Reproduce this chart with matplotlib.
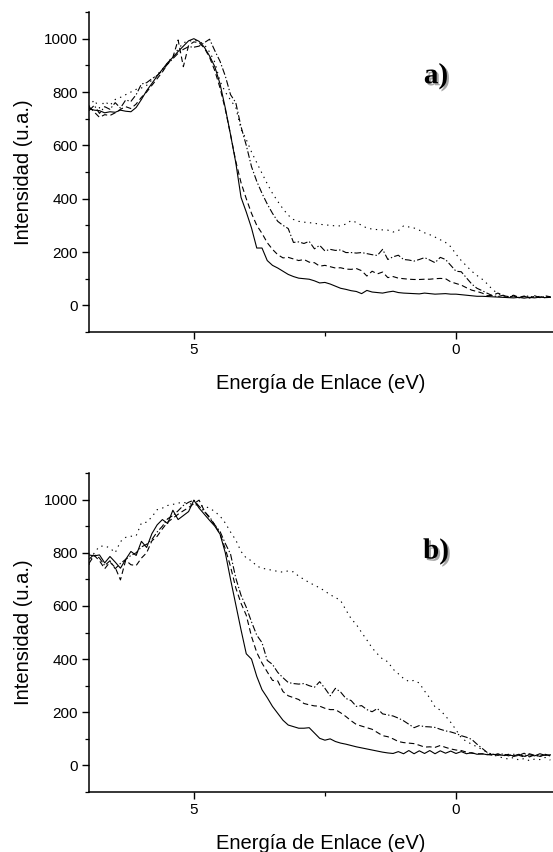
import numpy as np
import matplotlib

matplotlib.use("Agg")
import matplotlib.pyplot as plt
import matplotlib.patheffects as pe
from matplotlib.ticker import MultipleLocator

plt.rcParams["font.family"] = ["Liberation Sans", "DejaVu Sans"]

# binding energy grid (eV), 0.1 eV steps from 7.0 down to -1.8
energy = np.round(np.arange(7.0, -1.85, -0.1), 1)

# panel a)
a_solid = [738, 732, 730, 722, 726, 724, 732, 728, 726, 742,
           772, 805, 832, 860, 885, 910, 930, 952, 972, 992,
           1000, 990, 968, 935, 895, 830, 740, 640, 535, 405,
           350, 290, 215, 215, 168, 150, 140, 128, 116, 108,
           102, 100, 98, 92, 84, 86, 80, 72, 64, 60,
           55, 52, 44, 56, 50, 48, 46, 50, 53, 48,
           46, 45, 44, 43, 46, 44, 42, 43, 44, 42,
           42, 40, 38, 36, 34, 34, 33, 32, 31, 30,
           29, 28, 30, 27, 30, 28, 31, 29, 30]
a_dashed = [745, 725, 705, 715, 712, 722, 735, 745, 738, 755,
            780, 800, 825, 850, 875, 905, 930, 995, 895, 975,
            988, 985, 965, 930, 880, 815, 735, 640, 540, 460,
            400, 345, 300, 270, 235, 210, 190, 178, 180, 174,
            168, 172, 162, 160, 147, 150, 145, 140, 141, 136,
            135, 138, 130, 110, 128, 118, 125, 104, 108, 102,
            100, 98, 97, 97, 98, 98, 100, 101, 100, 88,
            82, 76, 66, 57, 52, 46, 36, 38, 46, 36,
            33, 38, 30, 35, 27, 34, 30, 36, 32]
a_dashdot = [730, 750, 720, 745, 735, 760, 740, 770, 765, 790,
             830, 835, 850, 862, 880, 905, 925, 945, 960, 970,
             968, 972, 985, 998, 955, 915, 860, 790, 760, 670,
             600, 520, 465, 420, 380, 345, 315, 300, 288, 236,
             238, 232, 240, 212, 225, 204, 210, 206, 208, 198,
             198, 196, 198, 194, 190, 187, 210, 172, 182, 188,
             172, 170, 166, 172, 179, 170, 160, 180, 172, 150,
             128, 126, 103, 80, 64, 55, 45, 36, 33, 38,
             31, 35, 28, 33, 30, 36, 29, 33, 31]
a_dotted = [745, 770, 740, 765, 750, 772, 780, 790, 800, 810,
            815, 825, 845, 865, 885, 910, 935, 960, 985, 990,
            995, 990, 978, 950, 912, 840, 800, 770, 742, 660,
            622, 575, 535, 495, 456, 420, 390, 362, 338, 322,
            315, 312, 310, 308, 304, 302, 300, 298, 298, 305,
            318, 311, 300, 290, 286, 284, 283, 282, 275, 280,
            298, 294, 290, 282, 272, 265, 256, 246, 236, 220,
            192, 168, 148, 128, 112, 98, 80, 58, 45, 36,
            30, 34, 29, 32, 36, 30, 34, 28, 33]

# panel b)
b_solid = [792, 788, 792, 762, 786, 765, 742, 775, 805, 790,
           843, 820, 872, 905, 925, 910, 960, 925, 940, 955,
           998, 968, 945, 922, 900, 870, 800, 700, 605, 510,
           420, 400, 335, 285, 255, 222, 196, 170, 152, 146,
           140, 140, 142, 122, 102, 95, 100, 90, 84, 80,
           75, 70, 66, 62, 58, 54, 50, 47, 45, 52,
           44, 56, 44, 55, 45, 56, 44, 55, 46, 54,
           45, 52, 44, 48, 42, 44, 40, 42, 40, 38,
           40, 36, 42, 34, 40, 36, 44, 38, 40]
b_dashed = [760, 790, 770, 740, 765, 745, 698, 772, 755, 752,
            780, 800, 845, 862, 890, 915, 930, 945, 958, 970,
            985, 998, 958, 930, 905, 870, 815, 748, 668, 610,
            565, 485, 425, 385, 352, 320, 318, 278, 262, 255,
            248, 233, 228, 224, 223, 215, 210, 210, 198, 184,
            168, 154, 148, 142, 136, 124, 112, 108, 100, 90,
            86, 84, 82, 76, 69, 70, 68, 75, 68, 62,
            58, 56, 50, 46, 44, 43, 42, 38, 44, 36,
            42, 34, 38, 46, 32, 40, 34, 42, 36]
b_dashdot = [775, 795, 780, 752, 770, 740, 760, 775, 790, 800,
             822, 832, 850, 878, 900, 928, 940, 958, 978, 990,
             998, 975, 955, 935, 905, 880, 835, 795, 705, 640,
             595, 540, 490, 462, 395, 380, 350, 330, 312, 308,
             306, 308, 300, 294, 315, 290, 262, 290, 276, 252,
             244, 222, 225, 210, 202, 214, 194, 190, 186, 178,
             168, 155, 142, 150, 146, 145, 143, 136, 130, 126,
             120, 112, 106, 98, 80, 64, 48, 42, 38, 44,
             36, 42, 38, 32, 44, 38, 34, 40, 36]
b_dotted = [755, 800, 824, 826, 818, 800, 842, 858, 862, 864,
            912, 915, 935, 962, 968, 978, 982, 987, 990, 985,
            982, 978, 975, 968, 955, 938, 912, 878, 848, 805,
            780, 770, 750, 742, 738, 734, 730, 727, 732, 728,
            712, 700, 688, 678, 668, 656, 642, 632, 620, 585,
            552, 530, 500, 472, 442, 420, 400, 390, 362, 345,
            327, 316, 320, 310, 280, 254, 220, 208, 186, 162,
            134, 104, 90, 80, 70, 60, 48, 40, 34, 28,
            24, 30, 20, 26, 18, 24, 22, 30, 20]

STYLES = [
    dict(linestyle="-"),
    dict(linestyle=(0, (5, 3))),
    dict(linestyle=(0, (6, 2, 1.2, 2))),
    dict(linestyle=(0, (1.2, 4))),
]


def panel(ax, series, tag: str, tag_y: float) -> None:
    for values, style in zip(series, STYLES):
        ax.plot(energy, values, color="black", lw=0.8, **style)
    ax.set_xlim(7.0, -1.85)
    ax.set_ylim(-100, 1100)
    ax.xaxis.set_major_locator(MultipleLocator(5))
    ax.xaxis.set_minor_locator(MultipleLocator(2.5))
    ax.yaxis.set_major_locator(MultipleLocator(200))
    ax.yaxis.set_minor_locator(MultipleLocator(100))
    ax.spines[["top", "right"]].set_visible(False)
    for side in ("left", "bottom"):
        ax.spines[side].set_linewidth(1.1)
    ax.tick_params(which="major", direction="out", length=5, width=1.0, labelsize=11, pad=3)
    ax.tick_params(which="minor", direction="out", length=3, width=0.9)
    ax.set_xlabel("Energía de Enlace (eV)", fontsize=14.5, labelpad=12)
    ax.set_ylabel("Intensidad (u.a.)", fontsize=14.5, labelpad=8)
    ax.text(0.748, tag_y, tag, transform=ax.transAxes, ha="center", va="center",
            family="Liberation Serif", fontweight="bold", fontsize=21,
            path_effects=[pe.withSimplePatchShadow(offset=(1.5, -1.5), shadow_rgbFace="0.5", alpha=0.7)])


fig = plt.figure(figsize=(5.53, 8.52), dpi=100)
ax_a = fig.add_axes([0.1609, 0.6103, 0.8391, 0.3756])
ax_b = fig.add_axes([0.1609, 0.0704, 0.8391, 0.3744])
panel(ax_a, [a_solid, a_dashed, a_dashdot, a_dotted], "a)", 0.80)
panel(ax_b, [b_solid, b_dashed, b_dashdot, b_dotted], "b)", 0.755)
fig.savefig("out.png", dpi=100)
